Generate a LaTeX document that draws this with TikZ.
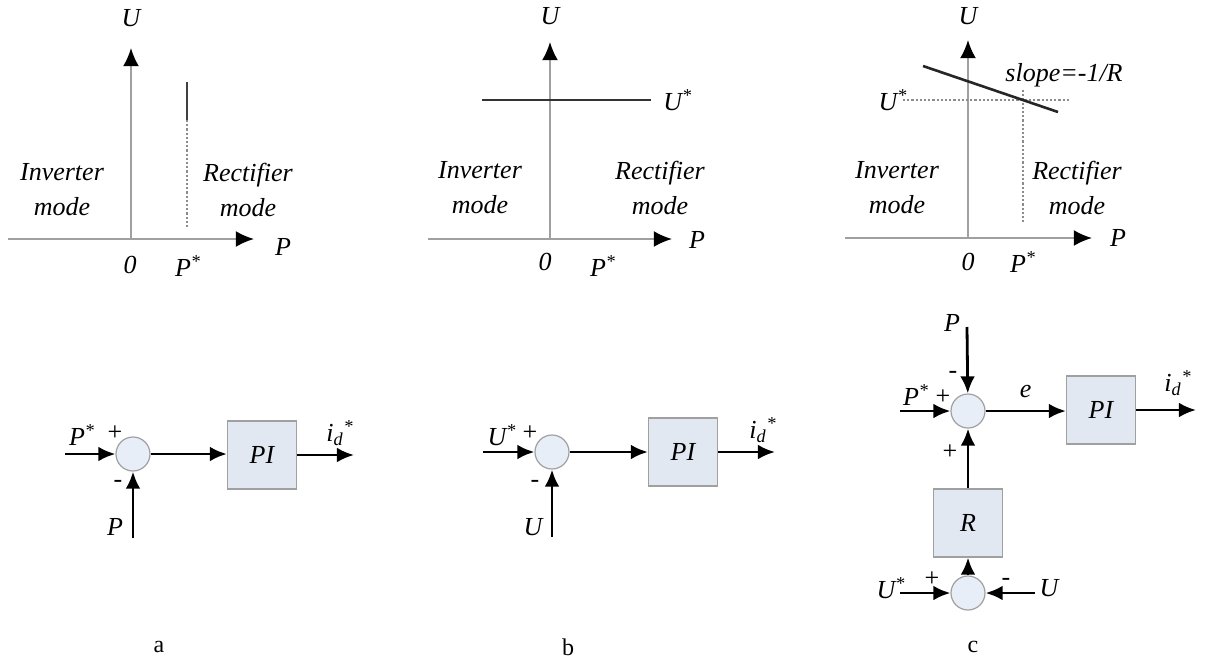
\documentclass[tikz,border=0pt]{standalone}
\usepackage{fontspec}
\setmainfont{Liberation Serif}
\usetikzlibrary{arrows.meta,positioning}
\definecolor{axisgray}{HTML}{A0A0A0}
\definecolor{blockfill}{HTML}{E2E8F1}
\definecolor{sumfill}{HTML}{E8EEF7}

\begin{document}
\begin{tikzpicture}[x=0.5pt,y=-0.5pt,
  lbl/.style={font=\fontsize{13}{17.5}\selectfont\itshape,inner sep=0pt},
  sgn/.style={font=\fontsize{13}{15}\selectfont,inner sep=0pt},
  mode/.style={lbl,align=center},
  axis/.style={draw=axisgray,line width=0.9pt,-{Latex[length=3.2mm,width=2.8mm,black]}},
  sig/.style={line width=1.4pt,-{Latex[length=3mm,width=2.6mm]}},
  guide/.style={line width=1.1pt,black!45,densely dotted},
  sumnode/.style={circle,draw=axisgray,line width=0.6pt,fill=sumfill,minimum size=17pt,inner sep=0pt},
  blockbox/.style={draw=axisgray,line width=0.6pt,fill=blockfill,minimum width=34.5pt,minimum height=34pt,inner sep=0pt,font=\fontsize{13}{15}\selectfont\itshape}]
\useasboundingbox (0,0) rectangle (1206,659);

% (a) constant power characteristic
\coordinate (a0) at (131,239);
\draw[axis] (8,239) coordinate (axl) -- (254,239) coordinate (axr);
\draw[axis] (a0) -- (131,48) coordinate (ayt);
\node[lbl] (aU) at (131,18) {U};
\node[lbl] (aP) at (283,247) {P};
\node[lbl] (a00) at (130,265) {0};
\node[lbl] (aPs) at (188,266) {P\textsuperscript{*}};
\draw[line width=1.4pt,black!75] (187,82) coordinate (av1) -- (187,120) coordinate (av2);
\draw[guide] (av2) -- (187,228);
\node[mode] (ainv) at (62,190) {Inverter\\mode};
\node[mode] (arec) at (248,190) {Rectifier\\mode};

% (b) constant voltage characteristic
\coordinate (b0) at (550,239);
\draw[axis] (428,239) -- (672,239);
\draw[axis] (b0) -- (550,42);
\draw[line width=1.3pt,black!80] (482,100) coordinate (bh1) -- (651,100) coordinate (bh2);
\node[lbl] (bU) at (550,16) {U};
\node[lbl,right=6pt of bh2] (bUs) {U\textsuperscript{*}};
\node[lbl] (bP) at (697,240) {P};
\node[lbl] (b00) at (545,262) {0};
\node[lbl] (bPs) at (603,266) {P\textsuperscript{*}};
\node[mode] (binv) at (480,188) {Inverter\\mode};
\node[mode] (brec) at (660,188) {Rectifier\\mode};

% (c) droop characteristic
\coordinate (c0) at (968,238);
\draw[axis] (845,238) -- (1092,238);
\draw[axis] (c0) -- (968,40);
\draw[guide] (903,100) -- (1070,100);
\draw[guide] (1023,90) -- (1023,222);
\draw[line width=1.3pt,black!85] (923,66) -- (1058,112);
\node[lbl] (cU) at (968,16) {U};
\node[lbl] (cUs) at (893,100) {U\textsuperscript{*}};
\node[lbl] (cslope) at (1064,75) {slope=-1/R};
\node[lbl] (cP) at (1118,238) {P};
\node[lbl] (c00) at (968,262) {0};
\node[lbl] (cPs) at (1023,262) {P\textsuperscript{*}};
\node[mode] (cinv) at (897,188) {Inverter\\mode};
\node[mode] (crec) at (1077,188) {Rectifier\\mode};

% (a) power controller
\node[sumnode] (sa) at (133,454) {};
\node[blockbox] (pia) at (262,455) {PI};
\coordinate (ain) at (65,454);
\coordinate (afb) at (133,538);
\coordinate (aout) at (354,455);
\draw[sig] (ain) -- (sa);
\draw[sig] (afb) -- (sa);
\draw[sig] (sa) -- (sa -| pia.west);
\draw[sig] (pia) -- (aout);
\node[lbl] at (82,435) {P\textsuperscript{*}};
\node[sgn] at (115,433) {+};
\node[lbl] at (115,527) {P};
\node[sgn] at (118,484) {-};
\node[lbl] at (340,433) {i\textsubscript{d}\textsuperscript{*}};

% (b) voltage controller
\node[sumnode] (sb) at (552,452) {};
\node[blockbox] (pib) at (683,452) {PI};
\coordinate (bin) at (483,452);
\coordinate (bfb) at (552,537);
\coordinate (bout) at (775,452);
\draw[sig] (bin) -- (sb);
\draw[sig] (bfb) -- (sb);
\draw[sig] (sb) -- (pib);
\draw[sig] (pib) -- (bout);
\node[lbl] at (502,435) {U\textsuperscript{*}};
\node[sgn] at (530,433) {+};
\node[lbl] at (533,527) {U};
\node[sgn] at (535,484) {-};
\node[lbl] at (763,430) {i\textsubscript{d}\textsuperscript{*}};

% (c) droop controller
\node[sumnode] (sc) at (968,411) {};
\node[blockbox] (pic) at (1101,410) {PI};
\node[blockbox] (rc) at (968,523) {R};
\node[sumnode] (su) at (968,593) {};
\coordinate (cpin) at (967,327);
\coordinate (cin) at (900,411);
\coordinate (cout) at (1196,410);
\coordinate (cuin) at (900,593);
\coordinate (cuin2) at (1035,593);
\draw[sig] (cpin) -- (sc);
\draw[sig] (cin) -- (sc);
\draw[sig] (sc) -- (sc -| pic.west) node[lbl,midway,above=6pt] (ce) {e};
\draw[sig] (pic) -- (cout);
\draw[sig] (rc) -- (sc);
\draw[sig] (su) -- (rc);
\draw[sig] (cuin) -- (su);
\draw[sig] (cuin2) -- (su);
\node[lbl] at (952,323) {P};
\node[sgn] at (953,375) {-};
\node[lbl] at (916,395) {P\textsuperscript{*}};
\node[sgn] at (943,397) {+};
\node[sgn] at (950,452) {+};
\node[lbl] at (1178,383) {i\textsubscript{d}\textsuperscript{*}};
\node[lbl] at (891,588) {U\textsuperscript{*}};
\node[sgn] at (932,579) {+};
\node[lbl] at (1049,588) {U};
\node[sgn] at (1006,582) {-};

% panel letters
\node[font=\fontsize{12}{14}\selectfont] at (159,647) {a};
\node[font=\fontsize{12}{14}\selectfont] at (568,647) {b};
\node[font=\fontsize{12}{14}\selectfont] at (973,647) {c};
\end{tikzpicture}
\end{document}
